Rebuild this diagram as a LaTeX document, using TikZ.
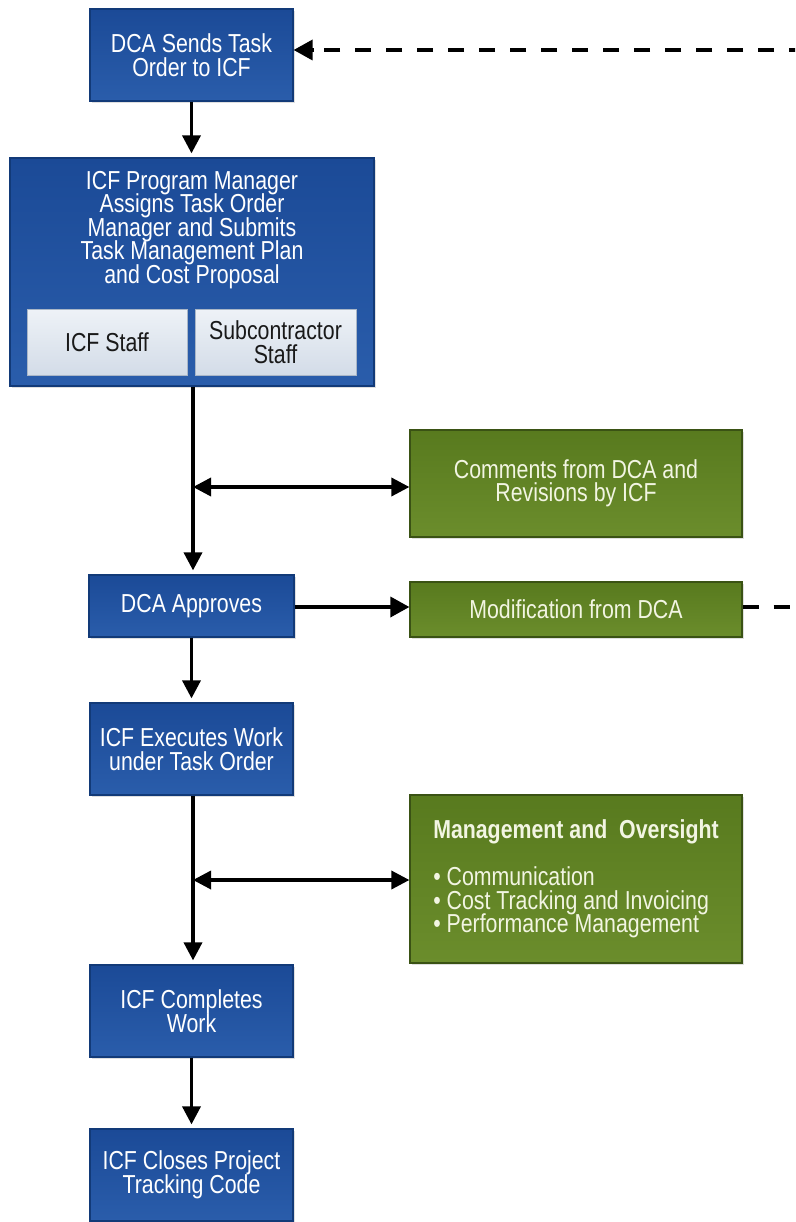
\documentclass[tikz,border=0pt]{standalone}
\usepackage{fontspec}
\setmainfont{Liberation Sans}[FakeStretch=0.82]
\usetikzlibrary{arrows.meta,shadows}
\definecolor{bluetop}{HTML}{1B4A97}
\definecolor{bluebot}{HTML}{2A5DAB}
\definecolor{bluedark}{HTML}{123A78}
\definecolor{greentop}{HTML}{587A1E}
\definecolor{greenbot}{HTML}{6B8D2C}
\definecolor{greendark}{HTML}{3A5214}
\definecolor{paletop}{HTML}{EEF2F7}
\definecolor{palebot}{HTML}{D3DCE8}
\definecolor{paledark}{HTML}{A9B6C7}
\definecolor{greentext}{HTML}{F2F5E2}
\newcommand\myboxfont{\fontsize{26}{23.5}\selectfont\lineskiplimit=-30pt\relax}
\begin{document}
\begin{tikzpicture}[x=1pt,y=-1pt,
  txt/.style={font=\myboxfont,align=center,inner sep=0pt},
  shad/.style={drop shadow={shadow xshift=2pt,shadow yshift=-2pt,opacity=0.25}},
  bluebox/.style={txt,shad,draw=bluedark,line width=1.2pt,top color=bluetop,bottom color=bluebot,text=white},
  greenbox/.style={txt,shad,draw=greendark,line width=1.2pt,top color=greentop,bottom color=greenbot,text=greentext},
  palebox/.style={txt,draw=paledark,line width=0.8pt,top color=paletop,bottom color=palebot,text=black!90},
  arr/.style={line width=3.5pt,-{Triangle[length=18pt,width=18pt]},shorten >=4pt},
  darr/.style={line width=3.5pt,{Triangle[length=18pt,width=18pt]}-{Triangle[length=18pt,width=18pt]}},
  sarr/.style={line width=3.5pt,-{Triangle[length=19pt,width=20pt]}},
  dline/.style={line width=3.8pt,dash pattern=on 16pt off 15pt}
]
\useasboundingbox (0,0) rectangle (795,1222);
\clip (0,0) rectangle (795,1222);

% blue process boxes
\node[bluebox,minimum width=203pt,minimum height=92pt] (b1) at (191.5,55) {DCA Sends Task\\Order to ICF};
\node[bluebox,minimum width=364pt,minimum height=228pt] (b2) at (192,272) {};
\node[txt,text=white] (b2t) at (192,230) {ICF Program Manager\\Assigns Task Order\\Manager and Submits\\Task Management Plan\\and Cost Proposal};
\node[palebox,minimum width=160pt,minimum height=66pt] (s1) at (107,342) {ICF Staff};
\node[palebox,minimum width=161pt,minimum height=66pt] (s2) at (275.5,342) {Subcontractor\\Staff};
\node[bluebox,minimum width=205pt,minimum height=62pt] (ap) at (191.5,606) {DCA Approves};
\node[bluebox,minimum width=203pt,minimum height=92pt] (ex) at (191.5,749) {ICF Executes Work\\under Task Order};
\node[bluebox,minimum width=203pt,minimum height=92pt] (co) at (191.5,1011) {ICF Completes\\Work};
\node[bluebox,minimum width=203pt,minimum height=92pt] (cl) at (191.5,1175) {ICF Closes Project\\Tracking Code};

% green boxes
\node[greenbox,minimum width=332pt,minimum height=107pt] (g1) at (576,483.5) {Comments from DCA and\\Revisions by ICF};
\node[greenbox,minimum width=332pt,minimum height=55pt] (g2) at (576,609.5) {Modification from DCA};
\node[greenbox,minimum width=332pt,minimum height=168pt,align=left] (g3) at (576,879)
  {\textbf{Management and~~Oversight}\\[23.5pt]
   • Communication\\
   • Cost Tracking and Invoicing\\
   • Performance Management};

% junctions on the main line
\coordinate (j1) at (193,487);
\coordinate (j2) at (193,880);
\coordinate (rt) at (805,50);
\coordinate (rm) at (805,607);

% connectors
\draw[arr] (b1.south) -- (b1.south |- b2.north);
\draw[arr] (b2.south -| j1) -- (j1 |- ap.north);
\draw[darr] (j1) -- (j1 -| g1.west);
\draw[arr] (ap.south) -- (ap.south |- ex.north);
\draw[sarr] (ap.east |- rm) -- (rm -| g2.west);
\draw[arr] (ex.south -| j2) -- (j2 |- co.north);
\draw[darr] (j2) -- (j2 -| g3.west);
\draw[arr] (co.south) -- (co.south |- cl.north);

% dashed feedback from modification back to the task order
\draw[dline] (g2.east |- rm) -- (rm);
\draw[dline] (rt) -- ([xshift=18pt]b1.east |- rt);
\draw[sarr] ([xshift=20pt]b1.east |- rt) -- (b1.east |- rt);
\end{tikzpicture}
\end{document}
